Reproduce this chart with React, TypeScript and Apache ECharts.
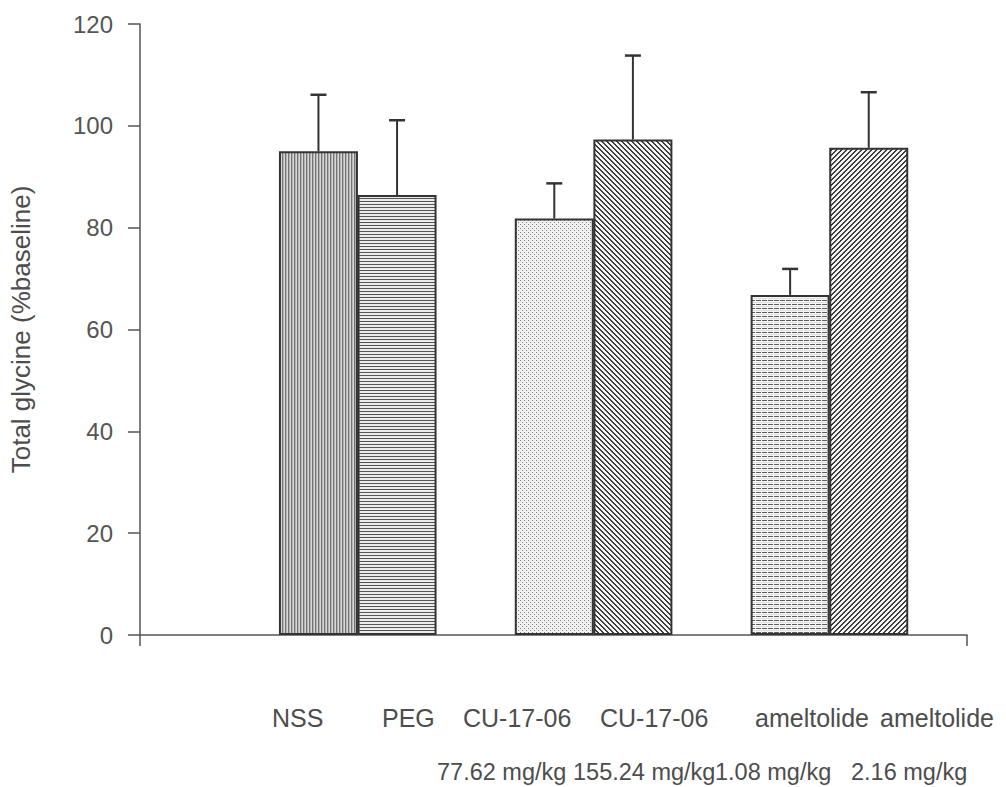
import React, { useEffect, useRef } from "react";
import * as echarts from "echarts";

const categories = ["NSS", "PEG", "CU-17-06", "CU-17-06", "ameltolide", "ameltolide"];
const doses = ["77.62 mg/kg", "155.24 mg/kg", "1.08 mg/kg", "2.16 mg/kg"];
const positions = [1.5, 2.5, 4.5, 5.5, 7.5, 8.5];
const means = [95.0, 86.4, 81.8, 97.3, 66.8, 95.7];
const errors = [11.1, 14.7, 6.9, 16.5, 5.1, 10.9];
const yTicks = [0, 20, 40, 60, 80, 100, 120];

const FONT = "'Liberation Sans', Arial, Helvetica, sans-serif";
const TEXT = "#4d4d4d";

function makePattern(w: number, h: number, fn: (x: number, y: number) => number) {
  const c = document.createElement("canvas");
  c.width = w;
  c.height = h;
  const ctx = c.getContext("2d")!;
  const img = ctx.createImageData(w, h);
  for (let y = 0; y < h; y++) {
    for (let x = 0; x < w; x++) {
      const v = fn(x, y);
      const i = (y * w + x) * 4;
      img.data[i] = v;
      img.data[i + 1] = v;
      img.data[i + 2] = v;
      img.data[i + 3] = 255;
    }
  }
  ctx.putImageData(img, 0, 0);
  return c;
}

function buildPatterns() {
  return [
    makePattern(3, 1, (x) => (x === 0 ? 115 : x === 1 ? 180 : 215)),
    makePattern(1, 3, (_x, y) => (y === 0 ? 85 : 235)),
    makePattern(4, 4, (x, y) => ((x === 0 && y === 0) || (x === 2 && y === 2) ? 125 : 242)),
    makePattern(5, 5, (x, y) => ((((x - y) % 5) + 5) % 5 < 2 ? 60 : 245)),
    makePattern(6, 4, (x, y) => (y === 0 && x !== 5 ? 95 : y === 2 ? 225 : 245)),
    makePattern(5, 5, (x, y) => ((x + y) % 5 < 2 ? 60 : 245)),
  ];
}

export default function App() {
  const ref = useRef<HTMLDivElement>(null);
  useEffect(() => {
    if (!ref.current) return;
    const chart = echarts.init(ref.current, undefined, { renderer: "svg" });
    const patterns = buildPatterns();
    const axisLineStyle = { color: "#555", width: 1.5 };

    const labelX = [272, 382, 463, 600, 755, 880];
    const doseX = [437, 573, 715, 851];
    const graphic: any[] = [];
    categories.forEach((c, i) => {
      graphic.push({
        type: "text",
        x: labelX[i],
        y: 718,
        style: { text: c, fontSize: 25, fontFamily: FONT, fill: TEXT, align: "left", verticalAlign: "middle" },
      });
    });
    doses.forEach((d, i) => {
      graphic.push({
        type: "text",
        x: doseX[i],
        y: 772,
        style: { text: d, fontSize: 23.5, fontFamily: FONT, fill: TEXT, align: "left", verticalAlign: "middle" },
      });
    });

    const option: any = {
      animation: false,
      backgroundColor: "#ffffff",
      grid: { left: 140, right: 39, top: 24, bottom: 152, containLabel: false },
      xAxis: {
        type: "value",
        min: -0.77,
        max: 9.75,
        axisLine: { show: true, onZero: true, lineStyle: axisLineStyle },
        axisTick: { show: true, customValues: [-0.77, 9.75], length: 11, lineStyle: axisLineStyle },
        axisLabel: { show: false },
        splitLine: { show: false },
      },
      yAxis: {
        type: "value",
        min: yTicks[0],
        max: yTicks[yTicks.length - 1],
        interval: 20,
        name: "Total glycine (%baseline)",
        nameLocation: "middle",
        nameGap: 106,
        nameTextStyle: { fontSize: 26, color: TEXT, fontFamily: FONT },
        axisLine: { show: true, onZero: false, lineStyle: axisLineStyle },
        axisTick: { show: true, length: 12, lineStyle: axisLineStyle },
        axisLabel: { fontSize: 24, color: "#555", margin: 27, fontFamily: FONT },
        splitLine: { show: false },
      },
      series: [
        {
          type: "bar",
          barWidth: 79,
          data: positions.map((p, i) => ({
            value: [p, means[i]],
            itemStyle: {
              color: { image: patterns[i], repeat: "repeat" },
              borderColor: "#333",
              borderWidth: 2,
            },
          })),
        },
        {
          type: "custom",
          z: 3,
          data: positions.map((p, i) => [p, means[i], errors[i]]),
          renderItem: (_params: any, api: any) => {
            const x = api.value(0);
            const y = api.value(1);
            const e = api.value(2);
            const base = api.coord([x, y]);
            const top = api.coord([x, y + e]);
            const hw = 8;
            return {
              type: "group",
              children: [
                {
                  type: "line",
                  shape: { x1: base[0], y1: base[1], x2: top[0], y2: top[1] },
                  style: { stroke: "#333", lineWidth: 2 },
                },
                {
                  type: "line",
                  shape: { x1: top[0] - hw, y1: top[1], x2: top[0] + hw, y2: top[1] },
                  style: { stroke: "#333", lineWidth: 2.5 },
                },
              ],
            };
          },
        },
      ],
      graphic,
    };
    chart.setOption(option);
    return () => chart.dispose();
  }, []);
  return (
    <div
      ref={ref}
      style={{ position: "absolute", left: 0, top: 0, width: 1006, height: 787, background: "#fff" }}
    />
  );
}
